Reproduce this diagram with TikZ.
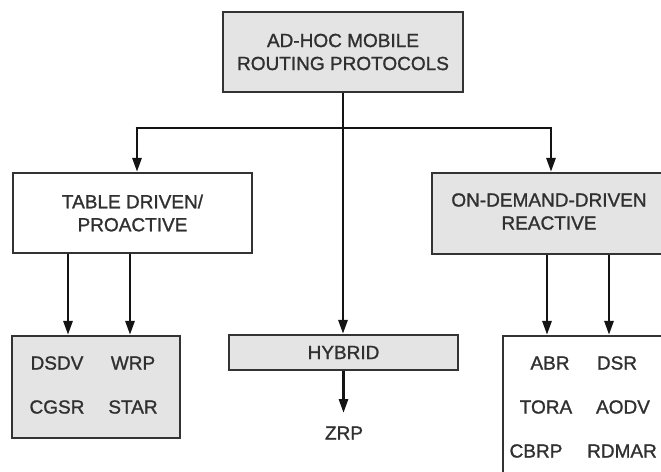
\documentclass[tikz,border=0pt]{standalone}
\usepackage{fontspec}
\setmainfont{Liberation Sans}[FakeBold=1.2]
\usetikzlibrary{arrows.meta,calc}
\definecolor{boxgray}{HTML}{E4E4E4}
\definecolor{edge}{HTML}{333333}
\definecolor{ink}{HTML}{303030}
\tikzset{
  box/.style={draw=edge,line width=2.2pt,rectangle,inner sep=0pt,align=center,
    font=\fontsize{19}{23}\selectfont,text=ink},
  grayfill/.style={fill=boxgray},
  lbl/.style={inner sep=2pt,font=\fontsize{19}{23}\selectfont,text=ink},
  arr/.style={draw=black!92,line width=2.8pt,-{Triangle[length=14pt,width=9pt]}},
  conn/.style={draw=black!92,line width=2.8pt},
}
\begin{document}
\begin{tikzpicture}[x=1pt,y=-1pt]
\useasboundingbox (0,0) rectangle (661,471);
\clip (0,0) rectangle (661,471);
% boxes
\node[box,grayfill,minimum width=240pt,minimum height=80pt] (top) at (343,52)
  {AD-HOC MOBILE\\ROUTING PROTOCOLS};
\node[box,fill=white,minimum width=239pt,minimum height=80pt] (table) at (132.5,213)
  {TABLE DRIVEN/\\PROACTIVE};
\node[box,grayfill,minimum width=248pt,minimum height=81pt] (od) at (556,213.5) {};
\node[lbl,align=center] (odtext) at (549,211.5) {ON-DEMAND-DRIVEN\\REACTIVE};
\node[box,grayfill,minimum width=168pt,minimum height=102pt] (lb) at (96,387) {};
\node[box,grayfill,minimum width=229pt,minimum height=35pt] (hy) at (343.5,352.5) {HYBRID};
\node[box,fill=white,minimum width=177pt,minimum height=184pt] (rb) at (591.5,428) {};
% protocol labels
\node[lbl] (dsdv) at (57,363) {DSDV};
\node[lbl] (wrp) at (133,363) {WRP};
\node[lbl] (cgsr) at (57,407) {CGSR};
\node[lbl] (star) at (133,407) {STAR};
\node[lbl] (zrp) at (344,433) {ZRP};
\node[lbl] (abr) at (550,363) {ABR};
\node[lbl] (dsr) at (617,363) {DSR};
\node[lbl] (tora) at (546,407) {TORA};
\node[lbl] (aodv) at (623,407) {AODV};
\node[lbl] (cbrp) at (536,451) {CBRP};
\node[lbl] (rdmar) at (622,451) {RDMAR};
% connectors
\coordinate (j) at (top.south |- 0,128);
\coordinate (hl) at (137,128);
\coordinate (hr) at (551,128);
\coordinate (ze) at (hy.south |- 0,413);
\draw[conn] (top.south) -- (j);
\draw[conn] ([xshift=-1.4pt]hl) -- ([xshift=1.4pt]hr);
\draw[arr] (hl) -- (hl |- table.north);
\draw[arr] (hr) -- (hr |- od.north);
\draw[arr] (j) -- (j |- hy.north);
\draw[arr] ([xshift=-64.5pt]table.south) -- ([xshift=-28pt]lb.north);
\draw[arr] ([xshift=-2.5pt]table.south) -- ([xshift=34pt]lb.north);
\draw[arr] ([xshift=-9pt]od.south) -- ([xshift=-44.5pt]rb.north);
\draw[arr] ([xshift=53pt]od.south) -- ([xshift=17.5pt]rb.north);
\draw[arr] (hy.south) -- (ze);
\end{tikzpicture}
\end{document}
